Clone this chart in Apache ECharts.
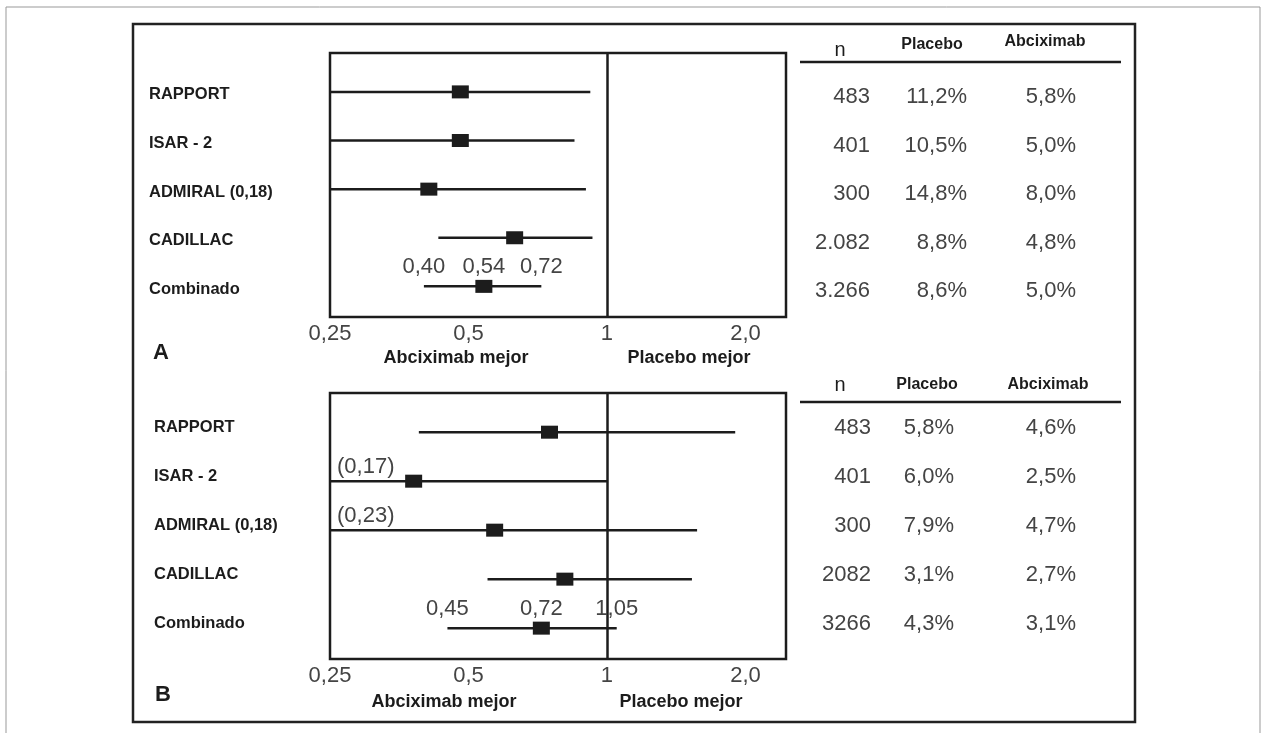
<!DOCTYPE html>
<html>
<head>
<meta charset="utf-8">
<script src="https://cdn.jsdelivr.net/npm/echarts@6/dist/echarts.min.js"></script>
<style>
html, body { margin: 0; padding: 0; background: #fff; }
#main { width: 1264px; height: 733px; }
</style>
</head>
<body>
<div id="main"></div>
<script>
// estudios (una fila por estudio)
var estudios = ['RAPPORT', 'ISAR - 2', 'ADMIRAL (0,18)', 'CADILLAC', 'Combinado'];

// eje x (escala logaritmica)
var tickVals = [0.25, 0.5, 1, 2];
var tickTxt = ['0,25', '0,5', '1', '2,0'];

// panel A: OR e IC
var loA = [0.2, 0.2, 0.18, 0.43, 0.40];
var estA = [0.48, 0.48, 0.41, 0.63, 0.54];
var hiA = [0.92, 0.85, 0.90, 0.93, 0.72];
var nA = ['483', '401', '300', '2.082', '3.266'];
var placeboA = ['11,2%', '10,5%', '14,8%', '8,8%', '8,6%'];
var abcixA = ['5,8%', '5,0%', '8,0%', '4,8%', '5,0%'];
var notaLoA = ['', '', '', '', '0,40'];
var notaEstA = ['', '', '', '', '0,54'];
var notaHiA = ['', '', '', '', '0,72'];

// panel B
var loB = [0.39, 0.17, 0.23, 0.55, 0.45];
var estB = [0.75, 0.38, 0.57, 0.81, 0.72];
var hiB = [1.90, 1.00, 1.57, 1.53, 1.05];
var nB = ['483', '401', '300', '2082', '3266'];
var placeboB = ['5,8%', '6,0%', '7,9%', '3,1%', '4,3%'];
var abcixB = ['4,6%', '2,5%', '4,7%', '2,7%', '3,1%'];
var notaLoB = ['', '(0,17)', '(0,23)', '', '0,45'];
var notaEstB = ['', '', '', '', '0,72'];
var notaHiB = ['', '', '', '', '1,05'];

var FONT = '"Liberation Sans", Arial, Helvetica, sans-serif';
var NEGRO = '#1c1c1c';
var GRIS = '#444';

var paneles = [
	{ top : 53, height : 264, lo : loA, est : estA, hi : hiA, n : nA, pla : placeboA, abc : abcixA,
		nLo : notaLoA, nEst : notaEstA, nHi : notaHiA,
		nombreX : 149, dyNombre : 3, dyTabla : 5, colN : 870, colP : 967, colA : 1076 },
	{ top : 393, height : 266, lo : loB, est : estB, hi : hiB, n : nB, pla : placeboB, abc : abcixB,
		nLo : notaLoB, nEst : notaEstB, nHi : notaHiB,
		nombreX : 154, dyNombre : -5, dyTabla : -4, colN : 871, colP : 954, colA : 1076 }
];

function texto(x, y, s, st) {
	var style = {
		text : s,
		fill : st.fill || GRIS,
		fontSize : st.fontSize || 22,
		fontWeight : st.fontWeight || 'normal',
		fontFamily : FONT,
		align : st.align || 'center',
		verticalAlign : 'middle'
	};
	return { type : 'text', x : x, y : y, style : style };
}

function forest(p) {
	return function(params, api) {
		var i = params.dataIndex;
		var cs = params.coordSys;
		var y = api.coord([ 1, i ])[1];
		var x0 = api.coord([ api.value(0), i ])[0];
		var x1 = api.coord([ api.value(1), i ])[0];
		var x2 = api.coord([ api.value(2), i ])[0];
		var xl = Math.max(x0, cs.x);
		var xr = Math.min(x2, cs.x + cs.width);
		var hijos = [ {
			type : 'line',
			shape : { x1 : xl, y1 : y, x2 : xr, y2 : y },
			style : { stroke : NEGRO, lineWidth : 2.5 }
		}, {
			type : 'rect',
			shape : { x : x1 - 8.5, y : y - 6.5, width : 17, height : 13 },
			style : { fill : NEGRO }
		} ];
		if (p.nLo[i]) {
			if (x0 < cs.x) {
				hijos.push(texto(cs.x + 7, y - 14, p.nLo[i], { align : 'left' }));
			} else {
				hijos.push(texto(x0, y - 19, p.nLo[i], {}));
			}
		}
		if (p.nEst[i]) hijos.push(texto(x1, y - 19, p.nEst[i], {}));
		if (p.nHi[i]) hijos.push(texto(x2, y - 19, p.nHi[i], {}));
		return { type : 'group', children : hijos };
	};
}

function filas(p) {
	return function(params, api) {
		var i = params.dataIndex;
		var y = api.coord([ 1, i ])[1];
		return {
			type : 'group',
			children : [
				texto(p.nombreX, y + p.dyNombre, estudios[i], { align : 'left', fontSize : 16.5, fontWeight : 'bold', fill : NEGRO }),
				texto(p.colN, y + p.dyTabla, p.n[i], { align : 'right' }),
				texto(p.colP, y + p.dyTabla, p.pla[i], { align : 'right' }),
				texto(p.colA, y + p.dyTabla, p.abc[i], { align : 'right' })
			]
		};
	};
}

var grids = [], xAxes = [], yAxes = [], series = [];
paneles.forEach(function(p, g) {
	grids.push({
		left : 330, top : p.top, width : 456, height : p.height,
		show : true, borderColor : NEGRO, borderWidth : 2.5
	});
	xAxes.push({
		type : 'log', logBase : 2, gridIndex : g, min : 0.25, max : 2.45,
		axisLine : { show : false }, axisTick : { show : false }, splitLine : { show : false },
		axisLabel : {
			margin : 6, fontSize : 22, color : GRIS, fontFamily : FONT,
			formatter : function(v) {
				for (var k = 0; k < tickVals.length; k++) {
					if (Math.abs(v - tickVals[k]) < 1e-6) return tickTxt[k];
				}
				return '';
			}
		}
	});
	yAxes.push({ type : 'value', gridIndex : g, inverse : true, min : -0.8, max : 4.63, show : false });
	series.push({
		type : 'custom', xAxisIndex : g, yAxisIndex : g,
		renderItem : forest(p),
		encode : { x : [ 0, 1, 2 ], y : 3 },
		data : p.est.map(function(v, i) { return [ p.lo[i], v, p.hi[i], i ]; }),
		markLine : {
			silent : true, symbol : [ 'none', 'none' ], label : { show : false },
			lineStyle : { color : NEGRO, width : 2.5, type : 'solid' },
			data : [ { xAxis : 1 } ]
		}
	});
	series.push({
		type : 'custom', xAxisIndex : g, yAxisIndex : g,
		renderItem : filas(p),
		encode : { x : 0, y : 1 },
		data : estudios.map(function(s, i) { return [ 1, i ]; })
	});
});

function cab(x, y, s, size, weight) {
	return {
		type : 'text', x : x, y : y,
		style : { text : s, fill : NEGRO, fontSize : size, fontWeight : weight, fontFamily : FONT,
			align : 'center', verticalAlign : 'middle' }
	};
}

var graficos = [
	{ type : 'rect', shape : { x : 6, y : 7, width : 1254, height : 800 }, style : { fill : 'none', stroke : '#999', lineWidth : 1 } },
	{ type : 'rect', shape : { x : 133, y : 24, width : 1002, height : 698 }, style : { fill : 'none', stroke : '#222', lineWidth : 2.5 } },
	// cabeceras de tabla
	cab(840, 50, 'n', 20, 'normal'), cab(932, 45, 'Placebo', 16, 'bold'), cab(1045, 42, 'Abciximab', 16, 'bold'),
	cab(840, 385, 'n', 20, 'normal'), cab(927, 385, 'Placebo', 16, 'bold'), cab(1048, 385, 'Abciximab', 16, 'bold'),
	{ type : 'line', shape : { x1 : 800, y1 : 62, x2 : 1121, y2 : 62 }, style : { stroke : NEGRO, lineWidth : 2.5 } },
	{ type : 'line', shape : { x1 : 800, y1 : 402, x2 : 1121, y2 : 402 }, style : { stroke : NEGRO, lineWidth : 2.5 } },
	// letras de panel y rotulos del eje
	cab(161, 353, 'A', 22, 'bold'), cab(163, 695, 'B', 22, 'bold'),
	cab(456, 358, 'Abciximab mejor', 18, 'bold'), cab(689, 358, 'Placebo mejor', 18, 'bold'),
	cab(444, 702, 'Abciximab mejor', 18, 'bold'), cab(681, 702, 'Placebo mejor', 18, 'bold')
];

var myChart = echarts.init(document.getElementById('main'));
myChart.setOption({
	animation : false,
	backgroundColor : '#fff',
	grid : grids,
	xAxis : xAxes,
	yAxis : yAxes,
	series : series,
	graphic : graficos
});
</script>
</body>
</html>
